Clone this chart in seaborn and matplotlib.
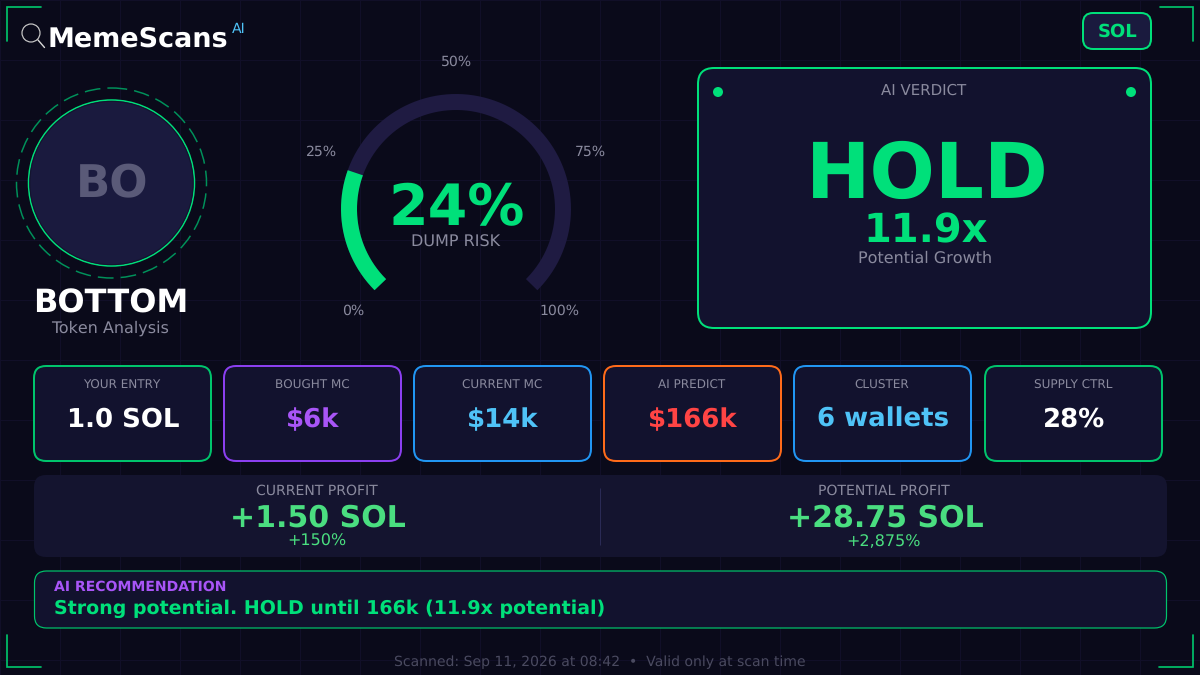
"""MemeScans token card."""
import numpy as np
import pandas as pd
import matplotlib
matplotlib.use("Agg")
import matplotlib.pyplot as plt
from matplotlib.patches import Circle, FancyBboxPatch
import seaborn as sns

# Data
brand = "MemeScans"
chain = "SOL"
token_initials = "BO"
token_name = "BOTTOM"
dump_risk = 24
gauge_ticks = [0, 25, 50, 75, 100]
verdict = "HOLD"
growth = "11.9x"
card_labels = ["YOUR ENTRY", "BOUGHT MC", "CURRENT MC", "AI PREDICT", "CLUSTER", "SUPPLY CTRL"]
card_values = ["1.0 SOL", "$6k", "$14k", "$166k", "6 wallets", "28%"]
profit_labels = ["CURRENT PROFIT", "POTENTIAL PROFIT"]
profit_values = ["+1.50 SOL", "+28.75 SOL"]
profit_pcts = ["+150%", "+2,875%"]
recommendation = "Strong potential. HOLD until 166k (11.9x potential)"
footer = "Scanned: Sep 11, 2026 at 08:42  •  Valid only at scan time"

# Colours
BG = "#0a0a1a"
GRID = "#110f28"
PANEL = "#12122e"
AVATAR = "#1a1a3e"
TRACK = "#1f1b42"
GREEN = "#00e07a"
DIM_GREEN = "#00c46c"
MUTED = "#8a8a9e"
PROFIT = "#4ade80"
PURPLE = "#a855f7"
card_edges = ["#00c46c", "#8b3ff0", "#2196f3", "#ff6b1a", "#2196f3", "#00c46c"]
card_colors = ["white", PURPLE, "#4fc3f7", "#ff4444", "#4fc3f7", "white"]

PX = 0.72  # pixels to points at dpi 100

sns.set_theme(style="dark", rc={"axes.facecolor": BG, "figure.facecolor": BG})
plt.rcParams["font.family"] = ["DejaVu Sans"]
plt.rcParams["text.hinting"] = "no_hinting"
plt.rcParams["text.hinting_factor"] = 1

fig, ax = plt.subplots(figsize=(12, 6.75), dpi=100)
ax.set_position([0, 0, 1, 1])
ax.set_xlim(0, 1200)
ax.set_ylim(675, 0)
ax.axis("off")

ax.vlines(np.arange(0, 1201, 60), 0, 675, color=GRID, lw=0.72, zorder=0)
ax.hlines(np.arange(0, 676, 60), 0, 1200, color=GRID, lw=0.72, zorder=0)


def label(x, y, s, size, color=MUTED, weight="normal", ha="center", va="baseline"):
    ax.text(x, y, s, fontsize=size * PX, color=color, fontweight=weight, ha=ha, va=va, zorder=5)


def box(x0, y0, x1, y1, radius, face, edge="none", lw=2):
    ax.add_patch(FancyBboxPatch((x0, y0), x1 - x0, y1 - y0,
                                boxstyle=f"round,pad=0,rounding_size={radius}",
                                fc=face, ec=edge, lw=lw * PX, zorder=2))


# Corner brackets
for xs, ys in [([7, 7, 41], [41, 7, 7]), ([1160, 1193, 1193], [7, 7, 41]),
               ([7, 7, 41], [635, 667, 667]), ([1159, 1193, 1193], [667, 667, 635])]:
    ax.plot(xs, ys, color=DIM_GREEN, lw=1.7 * PX, solid_joinstyle="miter", zorder=3)

# Header
ax.add_patch(Circle((31, 33), 9, fc="none", ec="#c8c8c8", lw=1.2 * PX, zorder=5))
ax.plot([38, 44.5], [40, 47.5], color="#d8d8d8", lw=1.4 * PX, zorder=5)
label(48, 47, brand, 27.2, "white", "bold", ha="left")
label(232, 33, "AI", 14, "#4fc3f7", ha="left")
box(1083, 13, 1151, 49, 10, AVATAR, GREEN)
label(1118, 37, chain, 18, GREEN, "bold")

# Token avatar
ax.add_patch(Circle((111.5, 183), 95, fc="none", ec="#00915a", lw=1.5 * PX,
                    ls=(0, (10.5, 4.7)), zorder=3))
ax.add_patch(Circle((111.5, 183), 83, fc=AVATAR, ec=GREEN, lw=1.5 * PX, zorder=3))
ax.add_patch(Circle((111.5, 183), 81.6, fc="none", ec="#14142e", lw=1 * PX, zorder=3))
label(112, 197, token_initials, 45, "#5a5a78", "bold")
label(111, 313, token_name, 32, "white", "bold")
label(110, 333, "Token Analysis", 16)

# Gauge: 0 % sits at 225 degrees, 270 degrees of sweep clockwise
GX, GY = 456, 209


def gauge_xy(pct, r, cy=GY):
    theta = np.radians(225 - np.asarray(pct, dtype=float) * 2.7)
    return GX + r * np.cos(theta), cy - r * np.sin(theta)


for stop, color in [(100, TRACK), (dump_risk, GREEN)]:
    pct = np.linspace(0, stop, 200)
    xs, ys = gauge_xy(pct, 107)
    arc = pd.DataFrame({"x": xs, "y": ys, "order": np.arange(len(xs))})
    sns.lineplot(data=arc, x="x", y="y", sort=False, estimator=None, color=color,
                 lw=16 * PX, ax=ax, solid_capstyle="butt", zorder=3, legend=False)
ax.set_xlim(0, 1200)
ax.set_ylim(675, 0)

for t in gauge_ticks:
    tx, ty = gauge_xy(t, 146, GY - 1)
    label(tx, ty, f"{t}%", 14, va="center")
label(GX + 1, 225, f"{dump_risk}%", 57, GREEN, "bold")
label(GX, 247, "DUMP RISK", 16)

# Verdict panel
box(698, 68, 1151, 328, 16, PANEL, GREEN)
for dx in (718, 1131):
    ax.add_patch(Circle((dx, 92), 5, fc=GREEN, ec="none", zorder=4))
label(924, 95, "AI VERDICT", 15)
label(927, 198, verdict, 76.5, GREEN, "bold")
label(926, 242, growth, 40, GREEN, "bold")
label(925, 263, "Potential Growth", 16)

# Stat cards
card_x = [34, 224, 414, 604, 794, 985]
for x0, name, value, edge, color in zip(card_x, card_labels, card_values, card_edges, card_colors):
    box(x0, 366, x0 + 177, 461, 12, PANEL, edge)
    label(x0 + 88, 389, name, 12)
    label(x0 + 89, 427, value, 26, color, "bold")

# Profit strip
box(34, 475, 1167, 557, 12, "#14142f")
ax.vlines(600, 488, 545, color="#2a2a55", lw=1 * PX, zorder=3)
for cx, name, value, pct in zip((317, 884), profit_labels, profit_values, profit_pcts):
    label(cx, 495, name, 14)
    label(cx + 1, 527, value, 30, PROFIT, "bold")
    label(cx, 546, pct, 16, PROFIT)

# Recommendation
box(34.5, 571, 1166.5, 628, 12, PANEL, DIM_GREEN, lw=1.2)
label(54, 591, "AI RECOMMENDATION", 13.75, PURPLE, "bold", ha="left")
label(54, 614, recommendation, 18.95, GREEN, "bold", ha="left")

# Footer
label(600, 666, footer, 13.5, "#4a4a60")

fig.savefig("out.png", dpi=100, facecolor=BG)
